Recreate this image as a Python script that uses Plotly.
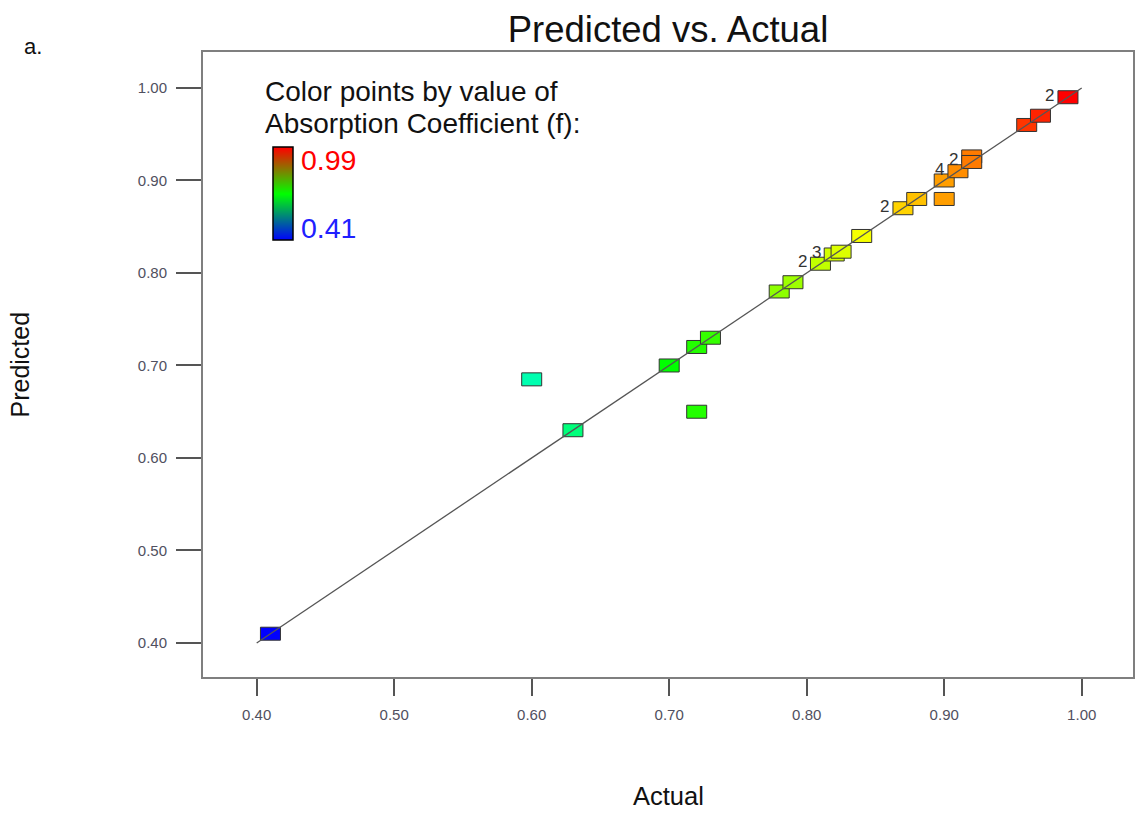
import plotly.graph_objects as go
from plotly.colors import sample_colorscale

# Design points: actual vs. predicted absorption coefficient
actual = [0.41, 0.60, 0.63, 0.70, 0.72, 0.72, 0.73, 0.78, 0.79, 0.81, 0.82, 0.825,
          0.84, 0.87, 0.88, 0.90, 0.90, 0.91, 0.92, 0.92, 0.96, 0.97, 0.99]
predicted = [0.41, 0.685, 0.63, 0.70, 0.72, 0.65, 0.73, 0.78, 0.79, 0.81, 0.82, 0.823,
             0.84, 0.87, 0.88, 0.88, 0.90, 0.91, 0.926, 0.92, 0.96, 0.97, 0.99]
# number of coincident runs at each point (labels drawn when > 1)
counts = [1, 1, 1, 1, 1, 1, 1, 1, 1, 2, 3, 1, 1, 2, 1, 1, 1, 4, 1, 2, 1, 1, 2]

# 45-degree reference line
line_x = [0.40, 1.00]
line_y = [0.40, 1.00]

# colour legend limits
color_low = 0.41
color_high = 0.99

tick_vals = [0.40, 0.50, 0.60, 0.70, 0.80, 0.90, 1.00]
tick_text = ["0.40", "0.50", "0.60", "0.70", "0.80", "0.90", "1.00"]

FONT = "Liberation Sans, Arial, sans-serif"
W, H = 1135, 814
L, R, T, B = 203, 2, 52, 137

# hue ramp used for the point fills
point_scale = [[0.0, "rgb(0,0,255)"], [0.25, "rgb(0,255,255)"], [0.5, "rgb(0,255,0)"],
               [0.75, "rgb(255,255,0)"], [1.0, "rgb(255,0,0)"]]
# ramp shown in the colour key
key_scale = [[0.0, "rgb(0,0,255)"], [0.5, "rgb(0,255,0)"], [1.0, "rgb(255,0,0)"]]

norm = [(a - color_low) / (color_high - color_low) for a in actual]
norm = [min(max(v, 0.0), 1.0) for v in norm]
fills = sample_colorscale(point_scale, norm)


def px_x(px):
    return (px - L) / (W - L - R)


def px_y(py):
    return (H - B - py) / (H - T - B)


fig = go.Figure()

# rectangles marking each run, anchored at data coordinates
shapes = []
for a, p, c in zip(actual, predicted, fills):
    shapes.append(dict(
        type="rect", layer="below",
        xref="x", yref="y",
        xsizemode="pixel", ysizemode="pixel",
        xanchor=a, yanchor=p,
        x0=-10, x1=10, y0=-6.5, y1=6.5,
        fillcolor=c, line=dict(color="#333333", width=1),
    ))

# invisible markers carrying hover info
fig.add_trace(go.Scatter(
    x=actual, y=predicted, mode="markers",
    marker=dict(size=18, opacity=0),
    hovertemplate="Actual %{x:.2f}<br>Predicted %{y:.2f}<extra></extra>",
    showlegend=False,
))

fig.add_trace(go.Scatter(
    x=line_x, y=line_y, mode="lines",
    line=dict(color="#555555", width=1.3),
    hoverinfo="skip", showlegend=False,
))

# colour key: smooth ramp between the low and high values
fig.add_trace(go.Heatmap(
    z=[[color_low, color_low], [color_high, color_high]],
    x=[0, 1], y=[0, 1],
    colorscale=key_scale, zmin=color_low, zmax=color_high,
    zsmooth="best", showscale=False, hoverinfo="skip",
    xaxis="x2", yaxis="y2",
))
shapes.append(dict(type="rect", xref="x2 domain", yref="y2 domain",
                   x0=0, x1=1, y0=0, y1=1, layer="above",
                   line=dict(color="black", width=1.5)))

annotations = []
for a, p, n in zip(actual, predicted, counts):
    if n > 1:
        annotations.append(dict(
            x=a, y=p, xref="x", yref="y", text=str(n), showarrow=False,
            xshift=-18, yshift=2, font=dict(family=FONT, size=17, color="#333333"),
        ))

annotations += [
    dict(x=px_x(263), y=px_y(91), xref="paper", yref="paper", xanchor="left",
         yanchor="middle", showarrow=False, text="Color points by value of",
         font=dict(family=FONT, size=28, color="#111111")),
    dict(x=px_x(263), y=px_y(124), xref="paper", yref="paper", xanchor="left",
         yanchor="middle", showarrow=False, text="Absorption Coefficient (f):",
         font=dict(family=FONT, size=28, color="#111111")),
    dict(x=px_x(299), y=px_y(160), xref="paper", yref="paper", xanchor="left",
         yanchor="middle", showarrow=False, text=f"{color_high:.2f}",
         font=dict(family=FONT, size=28.5, color="#ff0000")),
    dict(x=px_x(299), y=px_y(228), xref="paper", yref="paper", xanchor="left",
         yanchor="middle", showarrow=False, text=f"{color_low:.2f}",
         font=dict(family=FONT, size=28.5, color="#2020ff")),
    dict(x=0.5, y=px_y(796), xref="paper", yref="paper", xanchor="center",
         yanchor="middle", showarrow=False, text="Actual",
         font=dict(family=FONT, size=25.5, color="#111111")),
    dict(x=px_x(19), y=0.5, xref="paper", yref="paper", xanchor="center",
         yanchor="middle", showarrow=False, text="Predicted", textangle=-90,
         font=dict(family=FONT, size=25, color="#111111")),
    dict(x=px_x(22), y=px_y(47), xref="paper", yref="paper", xanchor="left",
         yanchor="middle", showarrow=False, text="a.",
         font=dict(family=FONT, size=22, color="#111111")),
]

axis_common = dict(
    showgrid=False, zeroline=False, showline=True, linecolor="#7f7f7f",
    linewidth=2, mirror=True, ticks="outside", tickwidth=1.5, tickcolor="#555555",
    tickvals=tick_vals, ticktext=tick_text,
    tickfont=dict(family=FONT, size=15, color="#505060"),
)

fig.update_layout(
    width=W, height=H,
    margin=dict(l=L, r=R, t=T, b=B, autoexpand=False),
    paper_bgcolor="white", plot_bgcolor="white",
    title=dict(text="Predicted vs. Actual", x=0.5, xref="paper", xanchor="center",
               y=1 - 29 / H, yref="container", yanchor="middle",
               font=dict(family=FONT, size=36.5, color="#111111")),
    xaxis=dict(range=[0.36095, 1.0373], ticklen=17, ticklabelstandoff=6, **axis_common),
    yaxis=dict(range=[0.3632, 1.0389], ticklen=25, ticklabelstandoff=6, **axis_common),
    xaxis2=dict(domain=[px_x(273), px_x(293)], range=[0, 1], visible=False,
                anchor="y2", fixedrange=True),
    yaxis2=dict(domain=[px_y(240), px_y(147)], range=[0, 1], visible=False,
                anchor="x2", fixedrange=True),
    shapes=shapes,
    annotations=annotations,
    showlegend=False,
)

fig.write_html("out.html")
